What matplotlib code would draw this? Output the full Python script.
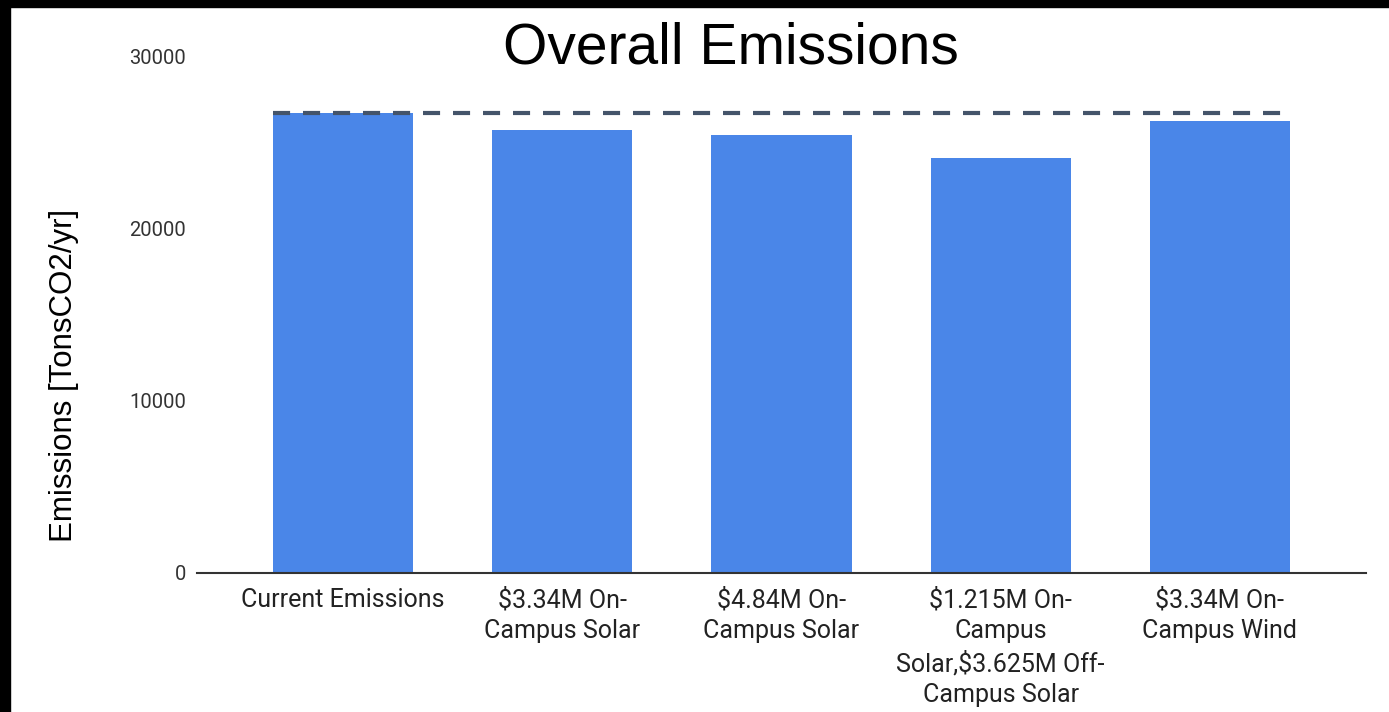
import matplotlib.pyplot as plt
from matplotlib.patches import Rectangle

# emissions per scenario, tons CO2 per year
scenarios = [
    "Current Emissions",
    "$3.34M On-\nCampus Solar",
    "$4.84M On-\nCampus Solar",
    "$1.215M On-\nCampus\nSolar,$3.625M Off-\nCampus Solar",
    "$3.34M On-\nCampus Wind",
]
emissions = [26750, 25760, 25450, 24150, 26290]
baseline = emissions[0]
yticks = [0, 10000, 20000, 30000]

bar_color = "#4a86e8"
line_color = "#44546a"

fig = plt.figure(figsize=(13.89, 7.12), dpi=100)
ax = fig.add_axes([197 / 1389, 1 - 573 / 712, (1366 - 197) / 1389, (573 - 57) / 712])

x = list(range(len(scenarios)))
bar_w = 0.64
ax.bar(x, emissions, width=bar_w, color=bar_color, zorder=2)

# dashed reference line at current emissions
ax.plot([x[0] - bar_w / 2, x[-1] + bar_w / 2 + 0.01], [baseline, baseline],
        ls=(0, (4.1, 3.1)), lw=3, color=line_color, zorder=3)

ax.set_xlim(-0.667, 4.667)
ax.set_ylim(0, 30000)
ax.set_yticks(yticks)
ax.set_yticklabels([str(t) for t in yticks], family="Roboto", fontsize=14.5, color="#333333")
ax.set_xticks(x)
ax.set_xticklabels(scenarios, family="Roboto", fontsize=18, color="#222222",
                   linespacing=1.35, va="top")
ax.tick_params(axis="y", length=0, pad=8)
ax.tick_params(axis="x", length=0, pad=11)

for side in ["left", "right", "top"]:
    ax.spines[side].set_visible(False)
ax.spines["bottom"].set_color("#333333")
ax.spines["bottom"].set_linewidth(1.5)
ax.spines["bottom"].set_zorder(4)

fig.text(731 / 1389, 1 - 48 / 712, "Overall Emissions", family="Liberation Sans",
         fontsize=41, ha="center", va="center", color="black")
fig.text(64 / 1389, 1 - 375 / 712, "Emissions [TonsCO2/yr]", family="Liberation Sans",
         fontsize=22.5, rotation=90, ha="center", va="center", color="black")

# black frame strips on the top and left edges
fig.patches.append(Rectangle((0, 1 - 7 / 712), 1, 7 / 712, transform=fig.transFigure,
                             color="black", zorder=10))
fig.patches.append(Rectangle((0, 0), 10 / 1389, 1, transform=fig.transFigure,
                             color="black", zorder=10))

fig.savefig("out.png", dpi=100)
